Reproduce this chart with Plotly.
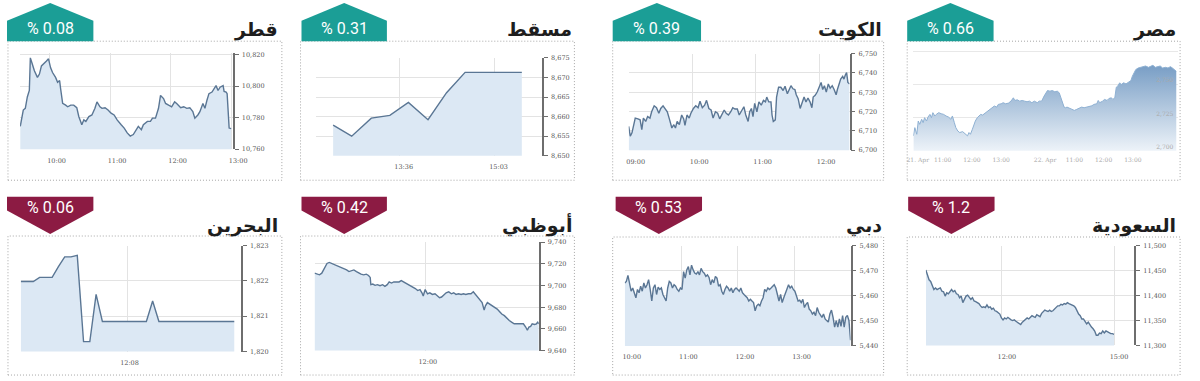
import plotly.graph_objects as go

W, H = 1200, 381

# ----------------------------------------------------------------- data
names = ["قطر", "مسقط", "الكويت", "مصر", "البحرين", "أبوظبي", "دبي", "السعودية"]
changes = ["% 0.08", "% 0.31", "% 0.39", "% 0.66", "% 0.06", "% 0.42", "% 0.53", "% 1.2"]

# Qatar (minutes since midnight)
qatar_times = [571, 574, 576, 578, 580, 581, 583, 585, 588, 590,
               592, 594, 597, 599, 601, 603, 606, 608, 610, 611,
               613, 616, 618, 621, 624, 627, 629, 632, 634, 636,
               639, 642, 645, 647, 650, 652, 655, 658, 661, 664,
               667, 671, 674, 677, 680, 683, 686, 688, 691, 693,
               697, 700, 702, 705, 708, 710, 713, 715, 718, 721,
               724, 726, 730, 733, 736, 739, 742, 744, 747, 749,
               752, 754, 756, 758, 761, 765, 767, 769, 772, 773,
               775, 776, 778, 780]
qatar_values = [10774.5, 10784.8, 10785.9, 10793.1, 10797.2, 10817.9, 10813.8, 10809.7, 10805.5, 10807.6,
                10812.8, 10813.8, 10815.9, 10817.3, 10811.7, 10808.6, 10805.5, 10802.4, 10803.5, 10798.3,
                10789.0, 10787.9, 10786.9, 10787.9, 10787.9, 10786.3, 10780.7, 10775.5, 10778.6, 10777.6,
                10780.7, 10781.7, 10785.9, 10790.0, 10786.9, 10785.9, 10786.3, 10784.8, 10782.8, 10781.7,
                10778.6, 10775.5, 10773.4, 10770.3, 10768.3, 10769.3, 10772.4, 10774.5, 10772.4, 10775.5,
                10777.6, 10777.6, 10779.7, 10779.7, 10785.9, 10794.1, 10792.1, 10789.0, 10787.9, 10786.9,
                10790.0, 10789.0, 10786.3, 10786.9, 10785.9, 10786.3, 10783.8, 10779.7, 10781.7, 10783.8,
                10789.0, 10785.9, 10791.0, 10795.2, 10796.2, 10800.3, 10797.2, 10799.3, 10800.3, 10796.6,
                10796.2, 10795.2, 10773.4, 10773.0]
qatar_xticks = [600, 660, 720, 780]
qatar_xlabels = ["10:00", "11:00", "12:00", "13:00"]
qatar_yticks = [10760, 10780, 10800, 10820]

# Muscat
muscat_times = [755, 772, 790, 807, 824, 842, 859, 876, 894, 911, 928]
muscat_values = [8657.8, 8655.0, 8659.6, 8660.3, 8663.6, 8659.2, 8666.1, 8671.3, 8671.3, 8671.3, 8671.3]
muscat_xticks = [816, 903]
muscat_xlabels = ["13:36", "15:03"]
muscat_yticks = [8650, 8655, 8660, 8665, 8670, 8675]

# Kuwait
kuwait_times = [540.0, 541.5, 543.1, 544.6, 546.2, 548.7, 550.8, 552.4, 553.9, 556.1,
                557.9, 560.1, 561.7, 564.1, 566.3, 568.5, 570.3, 572.5, 574.6, 576.5,
                578.7, 580.8, 582.7, 584.2, 585.8, 587.9, 590.1, 592.0, 593.2, 595.1,
                597.2, 598.8, 601.2, 603.4, 605.6, 607.4, 609.6, 611.8, 613.6, 615.8,
                617.9, 619.8, 622.0, 624.1, 626.0, 628.2, 630.3, 632.2, 634.3, 636.5,
                638.4, 640.5, 642.7, 644.5, 646.7, 648.9, 650.7, 652.9, 654.4, 656.0,
                657.5, 659.1, 661.2, 663.1, 665.3, 667.4, 669.3, 670.5, 672.4, 674.5,
                675.5, 676.7, 678.6, 679.8, 681.7, 683.8, 686.0, 687.8, 690.0, 691.6,
                693.4, 695.3, 697.1, 698.4, 700.2, 702.1, 703.9, 705.8, 707.6, 709.5,
                711.4, 713.2, 714.4, 716.3, 718.2, 720.0, 721.9, 723.4, 725.0, 726.8,
                728.7, 730.5, 732.4, 734.2, 736.1, 737.3, 738.6, 740.4, 742.3, 743.5,
                744.8, 746.0, 747.2, 748.8]
kuwait_values = [6712.3, 6707.3, 6709.0, 6713.2, 6716.6, 6716.2, 6715.7, 6710.6, 6716.6, 6714.9,
                 6717.4, 6716.6, 6719.9, 6723.0, 6722.0, 6719.1, 6721.6, 6723.0, 6721.3, 6719.9,
                 6715.7, 6711.5, 6713.2, 6711.5, 6714.9, 6713.2, 6718.2, 6716.2, 6712.8, 6718.2,
                 6716.6, 6719.1, 6721.6, 6723.0, 6722.0, 6725.3, 6722.0, 6723.3, 6725.8, 6721.6,
                 6720.8, 6716.6, 6719.9, 6719.1, 6716.2, 6718.2, 6720.8, 6719.1, 6718.2, 6719.9,
                 6722.0, 6721.3, 6721.3, 6718.2, 6720.3, 6722.5, 6718.2, 6714.9, 6719.9, 6721.6,
                 6717.4, 6724.2, 6719.9, 6725.0, 6723.3, 6725.8, 6725.0, 6727.5, 6725.0, 6725.0,
                 6718.2, 6714.9, 6715.7, 6727.5, 6732.6, 6732.6, 6730.9, 6733.1, 6729.2, 6731.4,
                 6733.4, 6731.8, 6731.4, 6728.7, 6726.7, 6721.6, 6725.0, 6727.5, 6725.0, 6727.0,
                 6725.0, 6722.0, 6727.5, 6728.4, 6730.1, 6732.6, 6735.1, 6731.4, 6733.4, 6730.1,
                 6734.3, 6732.1, 6733.4, 6731.4, 6728.7, 6731.4, 6733.8, 6736.8, 6738.2, 6736.8,
                 6738.9, 6740.2, 6735.1, 6734.3]
kuwait_xticks = [540, 600, 660, 720]
kuwait_xlabels = ["09:00", "10:00", "11:00", "12:00"]
kuwait_yticks = [6700, 6710, 6720, 6730, 6740, 6750]

# Egypt (trading minutes over two sessions)
egypt_times = [0, 3, 7, 10, 13, 17, 20, 23, 27, 30,
               34, 37, 40, 44, 47, 52, 57, 62, 67, 72,
               77, 80, 84, 87, 91, 95, 101, 106, 111, 114,
               117, 121, 124, 127, 131, 134, 138, 142, 148, 153,
               158, 162, 166, 171, 174, 180, 184, 189, 195, 200,
               205, 208, 213, 218, 223, 228, 233, 238, 243, 248,
               254, 258, 263, 268, 272, 275, 280, 285, 290, 295,
               299, 302, 305, 309, 312, 315, 321, 325, 330, 335,
               341, 345, 350, 355, 361, 366, 370, 376, 379, 382,
               388, 392, 397, 401, 406, 409, 413, 416, 419, 423,
               426, 431, 436, 441, 446, 449, 453, 456, 461, 466,
               471, 476, 482, 486, 491, 496, 502, 506, 511, 517,
               522, 527, 531, 535, 539]
egypt_values = [2711.3, 2717.5, 2712.5, 2722.5, 2720.0, 2723.8, 2721.3, 2725.0, 2722.5, 2725.5,
                2727.5, 2725.0, 2728.8, 2726.3, 2727.5, 2728.8, 2728.0, 2727.5, 2726.3, 2725.5,
                2723.8, 2726.3, 2721.3, 2717.5, 2715.0, 2713.8, 2714.5, 2713.0, 2711.3, 2713.8,
                2712.5, 2716.3, 2720.0, 2722.5, 2725.0, 2726.3, 2727.5, 2727.0, 2728.8, 2730.0,
                2731.3, 2732.5, 2733.8, 2733.0, 2735.0, 2735.5, 2736.3, 2735.5, 2736.0, 2737.5,
                2740.0, 2738.0, 2738.5, 2737.5, 2738.0, 2737.5, 2737.0, 2737.5, 2736.3, 2737.5,
                2736.3, 2737.5, 2737.5, 2741.3, 2743.8, 2745.5, 2745.0, 2745.5, 2744.5, 2745.0,
                2743.8, 2740.0, 2736.3, 2733.0, 2732.5, 2733.0, 2732.0, 2731.3, 2730.5, 2731.3,
                2732.5, 2733.0, 2732.5, 2733.0, 2733.5, 2734.0, 2735.0, 2735.5, 2738.0, 2736.3,
                2737.5, 2738.8, 2738.0, 2739.5, 2740.0, 2738.8, 2740.0, 2748.0, 2748.8, 2751.3,
                2750.0, 2751.3, 2750.5, 2752.0, 2753.0, 2756.3, 2758.8, 2761.3, 2762.5, 2763.0,
                2763.5, 2764.0, 2763.0, 2763.8, 2764.5, 2763.0, 2763.5, 2764.0, 2762.5, 2763.0,
                2762.5, 2763.5, 2762.5, 2761.3, 2760.0]
egypt_xticks = [9, 60, 120, 180, 270, 330, 390, 450, 510]
egypt_xlabels = ["21. Apr", "11:00", "12:00", "13:00", "22. Apr", "11:00", "12:00", "13:00", "14:00"]
egypt_yticks = [2700, 2725, 2750, 2775]
egypt_ylabels = ["2,700", "2,725", "2,750", ""]

# Bahrain (5-minute steps)
bahrain_start, bahrain_step = 643, 5
bahrain_values = [1821.98, 1821.98, 1821.98, 1822.10, 1822.10, 1822.10, 1822.40, 1822.68, 1822.68, 1822.72,
                  1820.28, 1820.28, 1821.62, 1820.85, 1820.85, 1820.85, 1820.85, 1820.85, 1820.85, 1820.85,
                  1820.85, 1821.43, 1820.85, 1820.85, 1820.85, 1820.85, 1820.85, 1820.85, 1820.85, 1820.85,
                  1820.85, 1820.85, 1820.85, 1820.85, 1820.85]
bahrain_times = [bahrain_start + bahrain_step * i for i in range(len(bahrain_values))]
bahrain_xticks = [728]
bahrain_xlabels = ["12:08"]
bahrain_yticks = [1820, 1821, 1822, 1823]

# Abu Dhabi
abudhabi_times = [600.0, 602.8, 605.3, 607.8, 610.6, 613.4, 615.9, 618.4, 621.2, 624.0,
                  626.5, 628.9, 631.8, 634.6, 637.1, 639.5, 642.4, 645.2, 647.7, 650.1,
                  653.0, 655.8, 658.2, 660.0, 660.7, 662.8, 665.3, 667.8, 670.6, 673.4,
                  675.9, 678.4, 680.5, 683.0, 685.4, 688.3, 691.1, 693.5, 696.0, 698.1,
                  700.6, 703.1, 705.9, 708.7, 711.2, 713.7, 715.8, 717.2, 719.3, 721.8,
                  724.3, 727.1, 729.9, 732.4, 734.8, 737.0, 739.4, 741.9, 744.7, 747.6,
                  750.0, 752.5, 755.3, 758.1, 760.6, 763.1, 765.9, 768.7, 771.2, 773.7,
                  776.5, 779.3, 780.7, 782.9, 784.3, 786.4, 788.9, 791.3, 794.2, 797.0,
                  799.4, 801.9, 804.7, 807.6, 810.0, 812.5, 815.3, 818.2, 820.6, 823.1,
                  825.2, 827.7, 829.5, 831.2, 833.0, 834.7, 837.2, 839.3, 840.7, 841.8]
abudhabi_values = [9711.4, 9710.5, 9709.9, 9711.4, 9715.9, 9720.4, 9721.3, 9720.4, 9719.5, 9718.3,
                   9717.4, 9716.5, 9715.3, 9714.4, 9712.9, 9713.5, 9714.4, 9712.9, 9711.4, 9710.5,
                   9709.9, 9710.5, 9709.3, 9707.5, 9700.8, 9701.4, 9700.2, 9700.8, 9699.9, 9700.8,
                   9699.3, 9700.8, 9703.3, 9702.3, 9703.3, 9703.0, 9703.3, 9704.5, 9703.3, 9702.3,
                   9700.8, 9700.2, 9698.4, 9697.2, 9695.4, 9696.3, 9693.3, 9690.3, 9696.3, 9692.4,
                   9693.3, 9691.8, 9692.4, 9690.3, 9688.8, 9689.4, 9691.8, 9693.3, 9694.2, 9692.4,
                   9693.3, 9691.8, 9692.4, 9691.8, 9692.4, 9691.8, 9692.4, 9692.4, 9694.2, 9691.8,
                   9688.8, 9685.8, 9684.3, 9677.3, 9681.3, 9684.3, 9682.8, 9681.3, 9680.4, 9678.3,
                   9676.1, 9673.7, 9672.2, 9669.2, 9667.7, 9666.2, 9664.7, 9664.7, 9664.7, 9664.1,
                   9664.7, 9661.7, 9658.7, 9661.7, 9662.3, 9664.7, 9664.1, 9664.7, 9666.2, 9664.7]
abudhabi_xticks = [720]
abudhabi_xlabels = ["12:00"]
abudhabi_yticks = [9640, 9660, 9680, 9700, 9720, 9740]

# Dubai (evenly spaced readings between open and last print)
dubai_first, dubai_last = 600.0, 839.3
dubai_values = [5465.1, 5465.7, 5468.1, 5464.4, 5461.8, 5463.1, 5460.8, 5459.2, 5462.5, 5461.2,
                5463.8, 5461.8, 5465.1, 5463.1, 5464.4, 5466.4, 5462.5, 5457.9, 5463.1, 5464.4,
                5460.5, 5463.4, 5462.5, 5463.1, 5460.5, 5459.2, 5457.9, 5463.1, 5465.7, 5465.1,
                5463.1, 5464.4, 5463.8, 5462.5, 5461.8, 5463.1, 5462.5, 5469.6, 5467.0, 5470.3,
                5471.6, 5468.3, 5472.2, 5470.3, 5469.0, 5468.6, 5469.6, 5468.3, 5470.9, 5469.6,
                5469.0, 5467.7, 5468.3, 5467.3, 5464.4, 5466.4, 5465.1, 5467.7, 5467.0, 5463.8,
                5464.4, 5461.8, 5460.5, 5462.5, 5463.8, 5463.1, 5461.8, 5463.1, 5461.2, 5462.5,
                5463.1, 5462.5, 5461.8, 5463.1, 5461.2, 5460.5, 5459.9, 5459.2, 5457.9, 5458.6,
                5457.9, 5457.3, 5454.0, 5456.0, 5456.6, 5456.0, 5457.9, 5459.2, 5462.5, 5461.8,
                5463.1, 5462.5, 5463.1, 5463.8, 5464.4, 5463.1, 5460.5, 5457.9, 5460.5, 5457.3,
                5459.2, 5461.2, 5462.5, 5464.4, 5463.1, 5463.8, 5462.5, 5461.8, 5459.9, 5457.9,
                5458.2, 5457.3, 5458.6, 5455.3, 5456.6, 5457.3, 5454.7, 5454.0, 5452.7, 5453.4,
                5452.1, 5455.3, 5453.4, 5452.1, 5451.4, 5452.7, 5450.8, 5450.1, 5449.5, 5452.7,
                5454.3, 5451.4, 5447.5, 5450.1, 5447.5, 5450.8, 5447.8, 5452.1, 5447.5, 5451.4,
                5452.1, 5450.1, 5442.3]
dubai_times = [dubai_first + (dubai_last - dubai_first) * i / (len(dubai_values) - 1)
               for i in range(len(dubai_values))]
dubai_xticks = [600, 660, 720, 780, 840]
dubai_xlabels = ["10:00", "11:00", "12:00", "13:00", "14:00"]
dubai_yticks = [5440, 5450, 5460, 5470, 5480]

# Saudi (evenly spaced readings between open and close)
saudi_first, saudi_last = 598.0, 900.0
saudi_values = [11451.0, 11442.5, 11431.4, 11428.1, 11418.3, 11411.8, 11415.0, 11411.8, 11413.7, 11415.0,
                11408.5, 11407.2, 11398.7, 11405.2, 11403.3, 11408.5, 11411.8, 11407.2, 11409.8, 11403.3,
                11402.0, 11395.4, 11398.7, 11385.6, 11392.2, 11398.7, 11400.7, 11395.4, 11392.2, 11395.4,
                11388.9, 11387.6, 11385.6, 11383.7, 11379.1, 11375.8, 11377.1, 11375.8, 11381.0, 11375.8,
                11377.1, 11372.5, 11374.5, 11369.3, 11368.0, 11366.0, 11362.7, 11354.9, 11351.0, 11354.9,
                11352.9, 11356.2, 11352.9, 11351.0, 11349.7, 11351.0, 11348.4, 11346.4, 11344.4, 11341.8,
                11346.4, 11349.7, 11352.9, 11354.9, 11352.9, 11356.2, 11359.5, 11357.5, 11356.2, 11361.4,
                11359.5, 11357.5, 11364.1, 11368.0, 11370.6, 11369.3, 11368.0, 11370.6, 11368.0, 11369.3,
                11372.5, 11375.8, 11379.1, 11379.1, 11382.4, 11381.0, 11383.7, 11382.4, 11385.6, 11383.7,
                11382.4, 11381.0, 11379.1, 11375.8, 11368.0, 11362.7, 11359.5, 11352.9, 11352.9, 11346.4,
                11343.1, 11346.4, 11339.9, 11336.6, 11333.3, 11328.8, 11320.3, 11320.3, 11324.8, 11323.5,
                11328.8, 11324.8, 11328.8, 11326.8, 11324.8, 11323.5, 11323.5, 11322.2]
saudi_times = [saudi_first + (saudi_last - saudi_first) * i / (len(saudi_values) - 1)
               for i in range(len(saudi_values))]
saudi_xticks = [720, 900]
saudi_xlabels = ["12:00", "15:00"]
saudi_yticks = [11300, 11350, 11400, 11450, 11500]

for a, b in [(qatar_times, qatar_values), (kuwait_times, kuwait_values),
             (egypt_times, egypt_values), (abudhabi_times, abudhabi_values)]:
    assert len(a) == len(b), (len(a), len(b))

# ----------------------------------------------------------------- layout config
TEAL = "#1b9e96"
MAROON = "#8c1b43"
LINE = "#5a7694"
FILL = "#dce8f4"
GRID = "#e3e3e3"
AXIS = "#6e6e6e"
TICKFONT = dict(family="DejaVu Serif", size=6.5, color="#555555")


def fx(px):
    return px / W


def fy(py):
    return 1 - py / H


panels = [
    dict(x=qatar_times, y=qatar_values, plot=(13.3, 50, 230, 148.3), xr=(570.8, 781.6), yr=(10760, 10821),
         xt=qatar_xticks, xl=qatar_xlabels, yt=qatar_yticks, shift=7,
         box=(1, 38, 280, 180), badge=(0, 88), title_r=278),
    dict(x=muscat_times, y=muscat_values, plot=(315, 55, 545, 155), xr=(739.5, 946.5), yr=(8650, 8675),
         xt=muscat_xticks, xl=muscat_xlabels, yt=muscat_yticks, shift=4,
         box=(299, 38, 578, 180), badge=(300, 387), title_r=578),
    dict(x=kuwait_times, y=kuwait_values, plot=(633.3, 50.7, 858.3, 149.3), xr=(540, 748.8), yr=(6700, 6750),
         xt=kuwait_xticks, xl=kuwait_xlabels, yt=kuwait_yticks, shift=7,
         box=(617, 38, 893, 180), badge=(617, 707), title_r=893),
    dict(x=egypt_times, y=egypt_values, plot=(923.3, 43, 1193.3, 150), xr=(0, 543.4), yr=(2700, 2779),
         xt=egypt_xticks, xl=egypt_xlabels, yt=egypt_yticks, shift=0,
         box=(917, 38, 1195, 180), badge=(917, 1005), title_r=1193, egypt=True),
    dict(x=bahrain_times, y=bahrain_values, plot=(14, 246.7, 238.3, 355), xr=(643, 818.3), yr=(1820, 1823),
         xt=bahrain_xticks, xl=bahrain_xlabels, yt=bahrain_yticks, shift=2,
         box=(1, 237, 280, 379), badge=(0, 88), title_r=278),
    dict(x=abudhabi_times, y=abudhabi_values, plot=(313.3, 243.3, 541.7, 354), xr=(600, 841.8), yr=(9640, 9740),
         xt=abudhabi_xticks, xl=abudhabi_xlabels, yt=abudhabi_yticks, shift=2,
         box=(299, 237, 578, 379), badge=(300, 387), title_r=578),
    dict(x=dubai_times, y=dubai_values, plot=(629.3, 246.7, 859.3, 349.3), xr=(600, 839.3), yr=(5440, 5480),
         xt=dubai_xticks, xl=dubai_xlabels, yt=dubai_yticks, shift=7,
         box=(617, 238, 893, 379), badge=(620, 708), title_r=893),
    dict(x=saudi_times, y=saudi_values, plot=(936, 246.7, 1148.3, 348.7), xr=(598, 932.5), yr=(11300, 11500),
         xt=saudi_xticks, xl=saudi_xlabels, yt=saudi_yticks, shift=5,
         box=(917, 238, 1195, 379), badge=(918, 1006), title_r=1193),
]

fig = go.Figure()
shapes = []
annotations = []
layout_axes = {}

for i, p in enumerate(panels):
    n = i + 1
    xa = "x" if n == 1 else f"x{n}"
    ya = "y" if n == 1 else f"y{n}"
    xkey = "xaxis" if n == 1 else f"xaxis{n}"
    ykey = "yaxis" if n == 1 else f"yaxis{n}"
    is_egypt = p.get("egypt", False)
    top_row = i < 4

    if is_egypt:
        fig.add_trace(go.Scatter(
            x=p["x"], y=p["y"], xaxis=xa, yaxis=ya, mode="lines",
            line=dict(color="#8eb0d2", width=1), fill="tozeroy",
            fillgradient=dict(type="vertical", start=2700, stop=2766,
                              colorscale=[[0, "rgba(240,245,250,1)"], [1, "rgba(118,156,196,1)"]]),
            hoverinfo="skip", showlegend=False))
    else:
        fig.add_trace(go.Scatter(
            x=p["x"], y=p["y"], xaxis=xa, yaxis=ya, mode="lines",
            line=dict(color=LINE, width=1.4), fill="tozeroy", fillcolor=FILL,
            hoverinfo="skip", showlegend=False))

    x0, y0, x1, y1 = p["plot"]
    xaxis = dict(domain=[fx(x0), fx(x1)], range=list(p["xr"]), anchor=ya,
                 tickvals=p["xt"], ticktext=p["xl"], tickfont=TICKFONT,
                 showgrid=not is_egypt, gridcolor=GRID, gridwidth=1, zeroline=False,
                 showline=False, ticks="", ticklabelshift=p["shift"], ticklabelstandoff=6,
                 fixedrange=True)
    yaxis = dict(domain=[fy(y1), fy(y0)], range=list(p["yr"]), anchor=xa, side="right",
                 tickvals=p["yt"], tickformat=",d", tickfont=TICKFONT,
                 showgrid=True, gridcolor=GRID, gridwidth=1, zeroline=False,
                 showline=True, linecolor=AXIS, linewidth=1.5,
                 ticks="outside", ticklen=4, tickcolor=AXIS, tickwidth=1,
                 ticklabelstandoff=2, fixedrange=True)
    if is_egypt:
        xaxis.update(tickfont=dict(family="DejaVu Serif", size=6, color="#aaaaaa"), ticklabelstandoff=4)
        yaxis.update(ticktext=egypt_ylabels, showline=False, ticks="", ticklabelposition="inside top",
                     tickfont=dict(family="DejaVu Serif", size=6, color="#aaaaaa"), gridcolor="#e8e8e8")
        yaxis.pop("tickformat")
    layout_axes[xkey] = xaxis
    layout_axes[ykey] = yaxis

    # dotted frame
    bx0, by0, bx1, by1 = p["box"]
    shapes.append(dict(type="rect", xref="paper", yref="paper", x0=fx(bx0), x1=fx(bx1), y0=fy(by1), y1=fy(by0),
                       line=dict(color="#a6a6a6", width=1, dash="1px,2px"), fillcolor="rgba(0,0,0,0)",
                       layer="below"))

    # badge
    ax0, ax1 = p["badge"]
    am = (ax0 + ax1) / 2
    if top_row:
        pts = [(ax0, 38), (ax0, 17), (am, -1), (ax1, 17), (ax1, 38)]
        color = TEAL
        ty = 25
    else:
        pts = [(ax0, 197), (ax1, 197), (ax1, 211), (am, 235), (ax0, 211)]
        color = MAROON
        ty = 208
    path = "M " + " L ".join(f"{fx(a):.5f},{fy(b):.5f}" for a, b in pts) + " Z"
    shapes.append(dict(type="path", xref="paper", yref="paper", path=path,
                       fillcolor=color, line=dict(width=0), layer="above"))
    annotations.append(dict(xref="paper", yref="paper", x=fx(am), y=fy(ty), text=changes[i],
                            showarrow=False, xanchor="center", yanchor="middle",
                            font=dict(family="Roboto", size=16, color="white")))

    # title
    title_y = 26 if top_row else 226
    annotations.append(dict(xref="paper", yref="paper", x=fx(p["title_r"]), y=fy(title_y),
                            text=f"<b>{names[i]}</b>", showarrow=False, xanchor="right", yanchor="middle",
                            font=dict(family="DejaVu Sans", size=19, color="#1e1e1e")))

fig.update_layout(
    width=W, height=H, autosize=False, margin=dict(l=0, r=0, t=0, b=0),
    paper_bgcolor="white", plot_bgcolor="white",
    shapes=shapes, annotations=annotations, showlegend=False,
    **layout_axes,
)

fig.write_html("out.html", config={"displayModeBar": False, "responsive": False},
               post_script="document.body.style.margin='0';document.body.style.overflow='hidden';")
